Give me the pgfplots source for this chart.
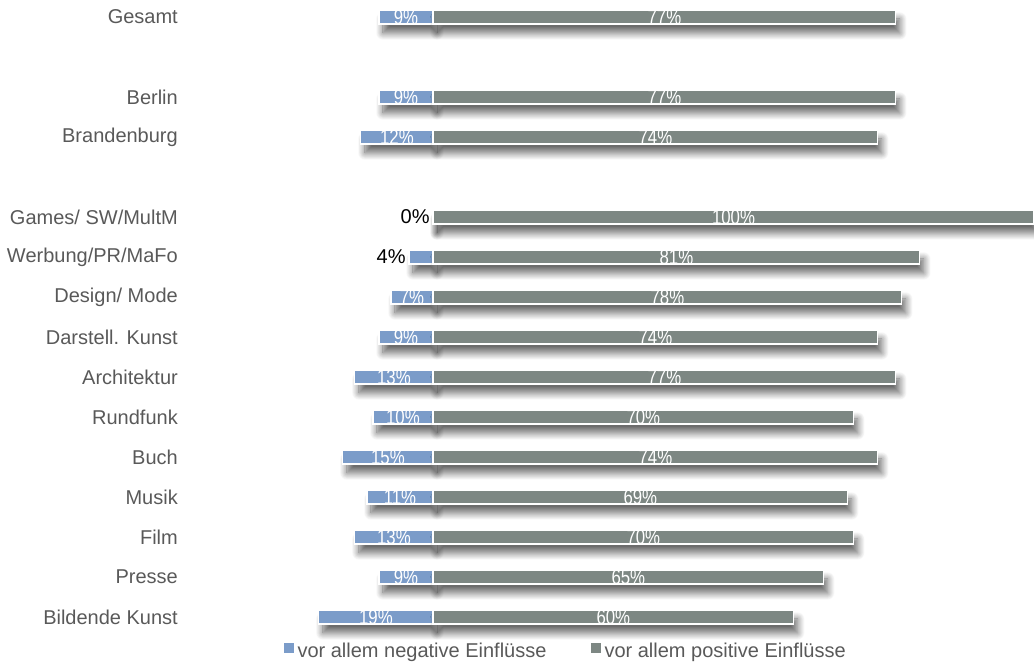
\documentclass[border=0pt]{standalone}
\usepackage{pgfplots}
\pgfplotsset{compat=1.18}
\usepackage{pgfplotstable}
\usepackage{fontspec}
\setmainfont{Liberation Sans}
\newfontfamily\narrowfont[FakeStretch=0.8]{Liberation Sans}
\usetikzlibrary{shadows.blur}
\definecolor{negc}{HTML}{7B9CC9}
\definecolor{posc}{HTML}{7D8783}
\definecolor{txt}{HTML}{595959}

\pgfplotstableread[col sep=comma]{
y,neg,pos,cat
0,-9,77,Gesamt
-2,-9,77,Berlin
-3,-12,74,Brandenburg
-5,0,100,Games/ SW/MultM
-6,-4,81,Werbung/PR/MaFo
-7,-7,78,Design/ Mode
-8,-9,74,Darstell. Kunst
-9,-13,77,Architektur
-10,-10,70,Rundfunk
-11,-15,74,Buch
-12,-11,69,Musik
-13,-13,70,Film
-14,-9,65,Presse
-15,-19,60,Bildende Kunst
}\data

\begin{document}
\begin{tikzpicture}
\begin{axis}[
  scale only axis, width=517pt, height=333.5pt,
  xmin=-72.05, xmax=100, ymin=-16.25, ymax=0.425,
  axis lines=none, clip=false,
  /pgf/number format/assume math mode=true,
  legend style={draw=none, fill=none, at={(0.548,0.0225)}, anchor=center,
    font=\fontsize{10}{12}\selectfont\color{txt}, legend columns=2,
    /tikz/every even column/.append style={column sep=20pt}},
  legend image code/.code={\fill[#1,draw=none] (0pt,-0.5pt) rectangle (5pt,4.5pt);},
]
\addlegendimage{fill=negc, draw=none}
\addlegendentry{vor allem negative Einflüsse}
\addlegendimage{fill=posc, draw=none}
\addlegendentry{vor allem positive Einflüsse}
\addplot[forget plot, xbar, bar shift=0pt, bar width=7pt, fill=negc, draw=white, line width=0.6pt,
  blur shadow={shadow xshift=2pt, shadow yshift=-4.5pt, shadow blur radius=3.5pt, shadow blur steps=12, shadow opacity=60}]
  table[x=neg, y=y] {\data};
\addplot[forget plot, xbar, bar shift=0pt, bar width=7pt, fill=posc, draw=white, line width=0.6pt,
  blur shadow={shadow xshift=2pt, shadow yshift=-4.5pt, shadow blur radius=3.5pt, shadow blur steps=12, shadow opacity=60}]
  table[x=pos, y=y] {\data};
% category labels
\addplot[only marks, mark=none, forget plot, point meta=explicit symbolic,
  nodes near coords, nodes near coords style={anchor=east, inner sep=0pt, font=\fontsize{10}{12}\selectfont, text=txt}]
  table[x expr=-42.4, y=y, meta=cat] {\data};
% inside labels positive
\addplot[only marks, mark=none, forget plot, point meta=explicit,
  nodes near coords={\pgfmathprintnumber[fixed,precision=0]{\pgfplotspointmeta}\%},
  nodes near coords style={anchor=center, inner sep=0pt, font=\narrowfont\fontsize{10.5}{12}\selectfont, text=white}]
  table[x expr=\thisrow{pos}/2, y=y, meta=pos] {\data};
% inside labels negative
\addplot[only marks, mark=none, forget plot, point meta=explicit,
  skip coords between index={3}{5},
  nodes near coords={\pgfmathprintnumber[fixed,precision=0]{\pgfplotspointmeta}\%},
  nodes near coords style={anchor=center, inner sep=0pt, font=\narrowfont\fontsize{10.5}{12}\selectfont, text=white}]
  table[x expr=\thisrow{neg}/2, y=y, meta expr=-\thisrow{neg}] {\data};
% outside labels negative
\addplot[only marks, mark=none, forget plot, point meta=explicit,
  nodes near coords={\pgfmathprintnumber[fixed,precision=0]{\pgfplotspointmeta}\%},
  nodes near coords style={anchor=east, inner sep=0pt, xshift=-1.5pt, font=\fontsize{10}{12}\selectfont, text=black}]
  table[x=neg, y=y, meta expr=-\thisrow{neg}] {
y neg
-5 0
-6 -4
};
\coordinate (bl) at (rel axis cs:0,0);
\coordinate (tr) at (rel axis cs:1,1);
\end{axis}
\pgfresetboundingbox
\path[use as bounding box] (bl) rectangle (tr);
\end{tikzpicture}
\end{document}
